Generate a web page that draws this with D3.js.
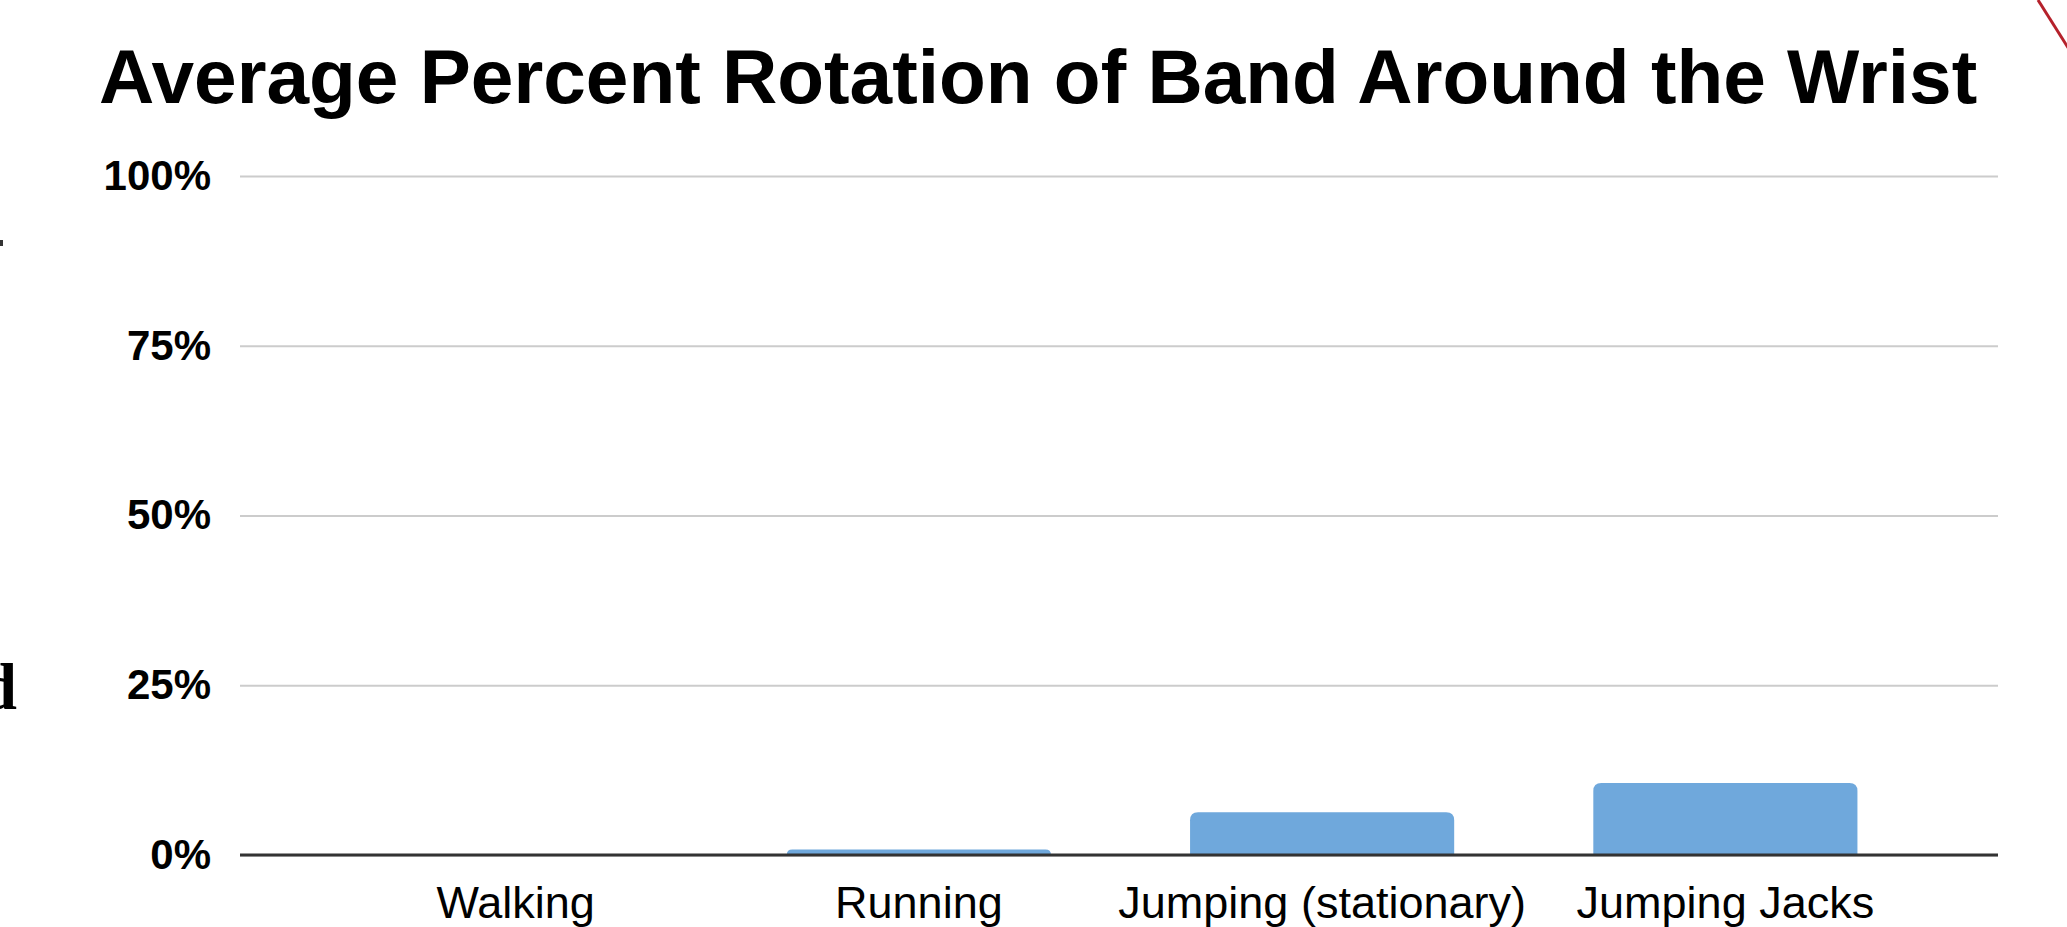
<!DOCTYPE html>
<html>
<head>
<meta charset="utf-8">
<script src="https://cdn.jsdelivr.net/npm/d3@7/dist/d3.min.js"></script>
<style>
  html, body { margin: 0; padding: 0; background: #ffffff; }
  svg { display: block; }
</style>
</head>
<body>
<svg id="chart" width="2067" height="927"></svg>
<script>
// Chart data
const categories = ["Walking", "Running", "Jumping (stationary)", "Jumping Jacks"];
const rotationValues = [0.0, 0.008, 0.063, 0.106];
const tickValues = [0, 0.25, 0.5, 0.75, 1];
const tickLabels = ["0%", "25%", "50%", "75%", "100%"];
const chartTitle = "Average Percent Rotation of Band Around the Wrist";

const svg = d3.select("#chart");
const W = 2067, H = 927;

svg.append("rect").attr("width", W).attr("height", H).attr("fill", "#ffffff");

// Layout
const plotLeft = 240, plotRight = 1998;
const y = d3.scaleLinear().domain([0, 1]).range([855, 176]);
const x = d3.scaleBand()
  .domain(categories)
  .range([314, 1927])
  .paddingInner(0.345)
  .paddingOuter(0.1725);

// Title
svg.append("text")
  .attr("x", 99)
  .attr("y", 103)
  .attr("font-family", "Liberation Sans, Arial, sans-serif")
  .attr("font-weight", "bold")
  .attr("font-size", 76.6)
  .attr("fill", "#000000")
  .text(chartTitle);

// Gridlines and y tick labels
const yAxis = d3.axisLeft(y)
  .tickValues(tickValues)
  .tickSize(-(plotRight - plotLeft))
  .tickPadding(29)
  .tickFormat((d, i) => tickLabels[i]);

const gy = svg.append("g")
  .attr("transform", `translate(${plotLeft},0)`)
  .call(yAxis);
gy.select(".domain").remove();
gy.selectAll(".tick line")
  .attr("stroke", "#cccccc")
  .attr("stroke-width", 2);
gy.selectAll(".tick text")
  .attr("font-family", "Liberation Sans, Arial, sans-serif")
  .attr("font-weight", "bold")
  .attr("font-size", 42)
  .attr("fill", "#000000");

// Bars with rounded top corners
const r = 8;
function barPath(x0, w, yTop, yBase) {
  const h = yBase - yTop;
  const rr = Math.min(r, h, w / 2);
  return `M${x0},${yBase}` +
    `V${yTop + rr}` +
    `Q${x0},${yTop} ${x0 + rr},${yTop}` +
    `H${x0 + w - rr}` +
    `Q${x0 + w},${yTop} ${x0 + w},${yTop + rr}` +
    `V${yBase}Z`;
}

svg.append("g")
  .selectAll("path")
  .data(categories.map((c, i) => ({ c, v: rotationValues[i] })).filter(d => d.v > 0))
  .join("path")
  .attr("d", d => barPath(x(d.c), x.bandwidth(), y(d.v), y(0)))
  .attr("fill", "#6fa8dc");

// Baseline
svg.append("line")
  .attr("x1", plotLeft).attr("x2", plotRight)
  .attr("y1", y(0)).attr("y2", y(0))
  .attr("stroke", "#333333")
  .attr("stroke-width", 3);

// Category labels
const xAxis = d3.axisBottom(x).tickSize(0).tickPadding(0);
const gx = svg.append("g")
  .attr("transform", `translate(0,${y(0)})`)
  .call(xAxis);
gx.select(".domain").remove();
gx.selectAll(".tick text")
  .attr("y", 63)
  .attr("dy", 0)
  .attr("font-family", "Liberation Sans, Arial, sans-serif")
  .attr("font-size", 45)
  .attr("fill", "#000000");

// Fragments at the page edges
svg.append("text")
  .attr("x", 17)
  .attr("y", 709)
  .attr("text-anchor", "end")
  .attr("font-family", "Liberation Serif, Times New Roman, serif")
  .attr("font-weight", "bold")
  .attr("font-size", 66)
  .attr("fill", "#000000")
  .text("d");

svg.append("rect")
  .attr("x", 0).attr("y", 240)
  .attr("width", 3).attr("height", 6)
  .attr("fill", "#333333");

svg.append("line")
  .attr("x1", 2038).attr("y1", 0)
  .attr("x2", 2072).attr("y2", 54)
  .attr("stroke", "#b5212b")
  .attr("stroke-width", 3);
</script>
</body>
</html>
